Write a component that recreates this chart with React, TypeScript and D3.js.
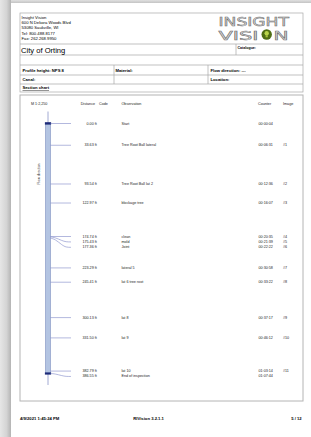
import React from "react";
import * as d3 from "d3";

const distances = [0, 33.63, 93.54, 122.97, 174.74, 175.43, 177.36, 223.29, 245.41, 300.13, 331.5, 382.79, 386.55];
const observations = ["Start", "Tree Root Ball lateral", "Tree Root Ball lat 2", "blockage tree", "clean", "mold", "Joint", "lateral 5", "lat 6 tree root", "lat 8", "lat 9", "lat 10", "End of inspection"];
const counters = ["00:00:04", "00:06:31", "00:12:36", "00:16:07", "00:20:35", "00:21:39", "00:22:22", "00:30:58", "00:33:22", "00:37:17", "00:46:12", "01:03:14", "01:07:44"];
const images = ["", "#1", "#2", "#3", "#4", "#5", "#6", "#7", "#8", "#9", "#10", "#11", ""];
const addressLines = ["Insight Vision", "600 N Dekora Woods Blvd", "53080 Saukville, WI", "Tel: 800.488.8177", "Fax: 262.268.9950"];

const W = 311;
const H = 437;
const FONT = "'Liberation Sans', Arial, sans-serif";
const LINE = "#a8a8a8";
const OBS = "#8088c8";

export default function App() {
  const y = d3.scaleLinear().domain([0, 386.55]).range([123.5, 373.5]);
  // label positions: forward de-overlap
  const minGap = 5.4;
  const labelY: number[] = [];
  distances.forEach((d, i) => {
    const a = y(d);
    labelY.push(i === 0 ? a : Math.max(a, labelY[i - 1] + minGap));
  });
  const pipeL = 45.5, pipeR = 50.5, pipeC = 48;
  const fs = 3.7;
  const link = d3.line<[number, number]>();

  return (
    <svg width={W} height={H} style={{ position: "fixed", left: 0, top: 0, background: "#fff" }} fontFamily={FONT}>
      <defs>
        <linearGradient id="lg" x1="0" x2="1" y1="0" y2="0">
          <stop offset="0" stopColor="#e6e6e6" />
          <stop offset="0.6" stopColor="#d4d4d4" />
          <stop offset="1" stopColor="#b4b4b4" />
        </linearGradient>
        <linearGradient id="tg" x1="0" x2="0" y1="0" y2="1">
          <stop offset="0" stopColor="#e0e0e0" />
          <stop offset="1" stopColor="#c4c4c4" />
        </linearGradient>
      </defs>
      <rect x={0} y={0} width={W} height={H} fill="#fff" />
      <rect x={0} y={0} width={W} height={3} fill="url(#tg)" />
      <rect x={0} y={0} width={11} height={H} fill="url(#lg)" />

      {/* header table */}
      <g stroke={LINE} strokeWidth={0.7} fill="none">
        <rect x={20} y={13} width={283} height={79} />
        <line x1={20} x2={303} y1={44} y2={44} />
        <line x1={20} x2={303} y1={55} y2={55} />
        <line x1={20} x2={303} y1={65} y2={65} />
        <line x1={20} x2={303} y1={75} y2={75} />
        <line x1={20} x2={303} y1={84} y2={84} />
        <line x1={236} x2={236} y1={44} y2={55} />
        <line x1={114} x2={114} y1={65} y2={84} />
        <line x1={208} x2={208} y1={65} y2={84} />
      </g>
      <g fontSize={4.2} fill="#000">
        {addressLines.map((t, i) => (
          <text key={t} x={21.5} y={18.8 + i * 5.3}>{t}</text>
        ))}
      </g>
      <text x={21} y={52.5} fontSize={7.6} fill="#000">City of Orting</text>
      <text x={237.5} y={48.5} fontSize={3.6} fontWeight="bold">Catalogue:</text>
      <g fontSize={4.2} fontWeight="bold">
        <text x={22.5} y={72}>Profile height:  NPS 8</text>
        <text x={115.5} y={72}>Material:</text>
        <text x={210.5} y={72}>Flow direction:  ---</text>
        <text x={22.5} y={81}>Canal:</text>
        <text x={210.5} y={81}>Location:</text>
        <text x={22.5} y={89} textDecoration="underline">Section chart</text>
      </g>

      {/* logo */}
      <g fill="#dcdcdc" stroke="#6e6e6e" strokeWidth={0.5} fontFamily="'DejaVu Sans', sans-serif">
        <text x={218.5} y={25.8} fontSize={12} textLength={70.5} lengthAdjust="spacingAndGlyphs">INSIGHT</text>
        <text x={218.5} y={39.5} fontSize={12} textLength={40} lengthAdjust="spacingAndGlyphs">VISI</text>
        <text x={273.5} y={39.5} fontSize={12} textLength={15} lengthAdjust="spacingAndGlyphs">N</text>
      </g>
      <circle cx={266.7} cy={34.5} r={5.2} fill="#4f6e14" />
      <circle cx={266.7} cy={33.3} r={2.2} fill="#b8d44a" />
      <rect x={265.6} y={35.2} width={2.2} height={2.1} fill="#a6c23a" />

      {/* chart box */}
      <rect x={20} y={95} width={283} height={306} fill="none" stroke="#b4b4b4" strokeWidth={1} />

      {/* column headers */}
      <g fontSize={fs} fill="#222">
        <text x={31} y={105.3}>M 1:2,250</text>
        <text x={80.7} y={105.3}>Distance</text>
        <text x={99} y={105.3}>Code</text>
        <text x={121.5} y={105.3}>Observation</text>
        <text x={258} y={105.3}>Counter</text>
        <text x={283} y={105.3}>Image</text>
      </g>
      <text transform={`translate(39.8,174) rotate(-90)`} textAnchor="middle" fontSize={3.4} fill="#333">Flow direction</text>

      {/* pipe */}
      <line x1={pipeC} x2={pipeC} y1={111.5} y2={y(0)} stroke="#8c96c8" strokeWidth={0.8} />
      <line x1={pipeC} x2={pipeC} y1={y(386.55)} y2={385} stroke="#8c96c8" strokeWidth={0.8} />
      <rect x={pipeL} y={y(0)} width={pipeR - pipeL} height={y(386.55) - y(0)} fill="#b3c4e2" stroke="#7d8fc0" strokeWidth={0.6} />
      <rect x={pipeL - 0.6} y={y(0) - 1.3} width={pipeR - pipeL + 1.2} height={2.4} fill="#1c2a78" />
      <rect x={pipeL - 0.6} y={y(386.55) - 1.1} width={pipeR - pipeL + 1.2} height={2.2} fill="#1c2a78" />

      {/* observation connectors */}
      <g fill="none" stroke={OBS} strokeWidth={0.6}>
        {distances.map((d, i) => {
          const a = y(d);
          const l = labelY[i];
          const pts: [number, number][] = Math.abs(l - a) < 0.3
            ? [[pipeR, a], [71, a]]
            : [[pipeR, a], [55, a + (l - a) * 0.1], [62, a + (l - a) * 0.75], [66, l], [71, l]];
          return <path key={i} d={link.curve(d3.curveBasis)(pts) || ""} />;
        })}
      </g>

      {/* rows */}
      <g fontSize={fs} fill="#222" dominantBaseline="central">
        {distances.map((d, i) => (
          <g key={i}>
            <text x={96.8} y={labelY[i]} textAnchor="end">{d.toFixed(2)} ft</text>
            <text x={121.5} y={labelY[i]}>{observations[i]}</text>
            <text x={258.5} y={labelY[i]}>{counters[i]}</text>
            <text x={283} y={labelY[i]}>{images[i]}</text>
          </g>
        ))}
      </g>

      {/* footer */}
      <g fontSize={4.2} fontWeight="bold" fill="#000">
        <text x={20} y={420}>4/9/2021 1:45:24 PM</text>
        <text x={133.3} y={420}>RIVision 3.2.1.1</text>
        <text x={301.7} y={420} textAnchor="end">5 / 12</text>
      </g>
    </svg>
  );
}
